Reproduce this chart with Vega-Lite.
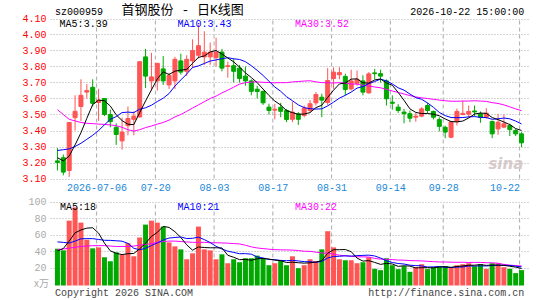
{
"$schema": "https://vega.github.io/schema/vega-lite/v6.json",
"width": 479, "height": 268,
"autosize": {"type": "none"},
"padding": {"left": 50, "top": 18, "right": 16, "bottom": 14},
"config": {"view": {"stroke": null}, "axis": {"labelFont": "Liberation Mono", "labelFontSize": 10}},
"datasets": {
"k": [
{"i":0,"o":3.21,"h":3.29,"l":3.15,"c":3.20,"m5":3.23,"m10":3.275,"m30":3.53,"v":42.8,"v5":40,"v10":51,"v30":41.6},
{"i":1,"o":3.23,"h":3.25,"l":3.12,"c":3.14,"m5":3.21,"m10":3.28,"m30":3.50,"v":40.8,"v5":43,"v10":50.5,"v30":42.5},
{"i":2,"o":3.15,"h":3.45,"l":3.11,"c":3.45,"m5":3.24,"m10":3.285,"m30":3.47,"v":76.8,"v5":52,"v10":49.6,"v30":43.5},
{"i":3,"o":3.48,"h":3.62,"l":3.40,"c":3.52,"m5":3.31,"m10":3.30,"m30":3.46,"v":92.8,"v5":62,"v10":52,"v30":44.5},
{"i":4,"o":3.55,"h":3.72,"l":3.46,"c":3.62,"m5":3.386,"m10":3.32,"m30":3.45,"v":74.4,"v5":65.5,"v10":54.8,"v30":45.5},
{"i":5,"o":3.64,"h":3.69,"l":3.60,"c":3.65,"m5":3.476,"m10":3.345,"m30":3.445,"v":53.6,"v5":67.7,"v10":55,"v30":46},
{"i":6,"o":3.67,"h":3.72,"l":3.55,"c":3.57,"m5":3.562,"m10":3.37,"m30":3.443,"v":43.2,"v5":68.2,"v10":55,"v30":46.5},
{"i":7,"o":3.575,"h":3.66,"l":3.46,"c":3.59,"m5":3.59,"m10":3.40,"m30":3.44,"v":44.4,"v5":61.7,"v10":54,"v30":46.5},
{"i":8,"o":3.60,"h":3.60,"l":3.49,"c":3.50,"m5":3.586,"m10":3.435,"m30":3.438,"v":32.4,"v5":49.6,"v10":53,"v30":46.5},
{"i":9,"o":3.50,"h":3.53,"l":3.42,"c":3.455,"m5":3.553,"m10":3.47,"m30":3.435,"v":27.6,"v5":40.2,"v10":52.9,"v30":46},
{"i":10,"o":3.42,"h":3.445,"l":3.31,"c":3.375,"m5":3.498,"m10":3.487,"m30":3.43,"v":38.4,"v5":37.2,"v10":52.4,"v30":45.5},
{"i":11,"o":3.335,"h":3.48,"l":3.28,"c":3.39,"m5":3.462,"m10":3.512,"m30":3.42,"v":35.6,"v5":35.7,"v10":51.9,"v30":45.5},
{"i":12,"o":3.43,"h":3.55,"l":3.37,"c":3.475,"m5":3.439,"m10":3.515,"m30":3.405,"v":49.6,"v5":36.7,"v10":49.2,"v30":45.5},
{"i":13,"o":3.47,"h":3.52,"l":3.37,"c":3.49,"m5":3.437,"m10":3.512,"m30":3.396,"v":33.6,"v5":37.0,"v10":43.3,"v30":46},
{"i":14,"o":3.485,"h":3.83,"l":3.48,"c":3.83,"m5":3.512,"m10":3.533,"m30":3.405,"v":56.4,"v5":42.7,"v10":41.5,"v30":47},
{"i":15,"o":3.86,"h":3.91,"l":3.665,"c":3.74,"m5":3.585,"m10":3.542,"m30":3.418,"v":72,"v5":49.4,"v10":43.3,"v30":48},
{"i":16,"o":3.71,"h":3.885,"l":3.65,"c":3.735,"m5":3.654,"m10":3.558,"m30":3.428,"v":76.8,"v5":57.7,"v10":46.7,"v30":49},
{"i":17,"o":3.71,"h":3.82,"l":3.65,"c":3.82,"m5":3.723,"m10":3.581,"m30":3.44,"v":74.4,"v5":62.6,"v10":49.7,"v30":50.5},
{"i":18,"o":3.785,"h":3.865,"l":3.685,"c":3.71,"m5":3.767,"m10":3.602,"m30":3.45,"v":69.6,"v5":69.8,"v10":53.4,"v30":51.5},
{"i":19,"o":3.685,"h":3.76,"l":3.66,"c":3.745,"m5":3.75,"m10":3.631,"m30":3.465,"v":50.4,"v5":68.6,"v10":55.7,"v30":52},
{"i":20,"o":3.71,"h":3.86,"l":3.66,"c":3.845,"m5":3.771,"m10":3.678,"m30":3.485,"v":45.6,"v5":63.4,"v10":56.4,"v30":52},
{"i":21,"o":3.835,"h":3.88,"l":3.75,"c":3.765,"m5":3.777,"m10":3.716,"m30":3.50,"v":42,"v5":56.4,"v10":57.0,"v30":51.5},
{"i":22,"o":3.77,"h":3.87,"l":3.74,"c":3.845,"m5":3.782,"m10":3.753,"m30":3.52,"v":30,"v5":47.5,"v10":55.1,"v30":51},
{"i":23,"o":3.835,"h":3.97,"l":3.79,"c":3.90,"m5":3.82,"m10":3.794,"m30":3.54,"v":37.2,"v5":41.0,"v10":55.4,"v30":50.5},
{"i":24,"o":3.87,"h":4.06,"l":3.85,"c":3.93,"m5":3.857,"m10":3.804,"m30":3.56,"v":69.6,"v5":44.9,"v10":56.8,"v30":50.5},
{"i":25,"o":3.86,"h":4.02,"l":3.81,"c":3.89,"m5":3.866,"m10":3.819,"m30":3.58,"v":42,"v5":44.2,"v10":53.8,"v30":50.5},
{"i":26,"o":3.86,"h":3.95,"l":3.81,"c":3.89,"m5":3.891,"m10":3.834,"m30":3.60,"v":40.8,"v5":43.9,"v10":50.2,"v30":50},
{"i":27,"o":3.855,"h":3.98,"l":3.80,"c":3.89,"m5":3.90,"m10":3.841,"m30":3.615,"v":30,"v5":43.9,"v10":45.7,"v30":50},
{"i":28,"o":3.89,"h":3.91,"l":3.77,"c":3.79,"m5":3.878,"m10":3.849,"m30":3.635,"v":36,"v5":43.7,"v10":42.4,"v30":49.8},
{"i":29,"o":3.80,"h":3.83,"l":3.73,"c":3.805,"m5":3.853,"m10":3.855,"m30":3.652,"v":25.2,"v5":34.8,"v10":39.8,"v30":49.5},
{"i":30,"o":3.805,"h":3.85,"l":3.70,"c":3.77,"m5":3.829,"m10":3.848,"m30":3.671,"v":30,"v5":32.4,"v10":38.3,"v30":49.0},
{"i":31,"o":3.79,"h":3.81,"l":3.70,"c":3.725,"m5":3.796,"m10":3.844,"m30":3.69,"v":26.4,"v5":29.5,"v10":36.7,"v30":48.6},
{"i":32,"o":3.74,"h":3.80,"l":3.68,"c":3.71,"m5":3.76,"m10":3.83,"m30":3.699,"v":31.2,"v5":29.8,"v10":36.8,"v30":47.0},
{"i":33,"o":3.71,"h":3.72,"l":3.62,"c":3.645,"m5":3.731,"m10":3.805,"m30":3.703,"v":31.2,"v5":28.8,"v10":36.2,"v30":45.0},
{"i":34,"o":3.658,"h":3.68,"l":3.60,"c":3.644,"m5":3.699,"m10":3.776,"m30":3.704,"v":34.4,"v5":30.6,"v10":32.7,"v30":43.7},
{"i":35,"o":3.644,"h":3.65,"l":3.56,"c":3.573,"m5":3.659,"m10":3.744,"m30":3.701,"v":31.2,"v5":30.9,"v10":31.6,"v30":42.9},
{"i":36,"o":3.546,"h":3.567,"l":3.50,"c":3.525,"m5":3.619,"m10":3.708,"m30":3.70,"v":22.8,"v5":30.2,"v10":29.8,"v30":42.2},
{"i":37,"o":3.527,"h":3.567,"l":3.47,"c":3.533,"m5":3.584,"m10":3.672,"m30":3.698,"v":25.2,"v5":29.0,"v10":29.4,"v30":41.6},
{"i":38,"o":3.545,"h":3.573,"l":3.483,"c":3.52,"m5":3.559,"m10":3.645,"m30":3.699,"v":28,"v5":28.3,"v10":28.6,"v30":41.4},
{"i":39,"o":3.525,"h":3.535,"l":3.452,"c":3.469,"m5":3.524,"m10":3.611,"m30":3.699,"v":22.8,"v5":26.0,"v10":28.3,"v30":41.3},
{"i":40,"o":3.47,"h":3.58,"l":3.452,"c":3.515,"m5":3.512,"m10":3.586,"m30":3.704,"v":33.6,"v5":26.5,"v10":28.7,"v30":41.1},
{"i":41,"o":3.504,"h":3.515,"l":3.435,"c":3.47,"m5":3.501,"m10":3.56,"m30":3.706,"v":19.2,"v5":25.8,"v10":28.0,"v30":40.6},
{"i":42,"o":3.494,"h":3.556,"l":3.483,"c":3.54,"m5":3.503,"m10":3.543,"m30":3.709,"v":22.8,"v5":25.3,"v10":27.1,"v30":39.7},
{"i":43,"o":3.525,"h":3.59,"l":3.515,"c":3.567,"m5":3.512,"m10":3.536,"m30":3.711,"v":30,"v5":25.7,"v10":27.0,"v30":39.6},
{"i":44,"o":3.573,"h":3.64,"l":3.556,"c":3.625,"m5":3.543,"m10":3.534,"m30":3.704,"v":27.6,"v5":26.6,"v10":26.3,"v30":38.6},
{"i":45,"o":3.608,"h":3.63,"l":3.483,"c":3.59,"m5":3.558,"m10":3.535,"m30":3.699,"v":42,"v5":28.3,"v10":27.4,"v30":37.6},
{"i":46,"o":3.575,"h":3.79,"l":3.56,"c":3.7125,"m5":3.607,"m10":3.554,"m30":3.699,"v":64,"v5":37.3,"v10":31.5,"v30":37.2},
{"i":47,"o":3.725,"h":3.795,"l":3.66,"c":3.765,"m5":3.652,"m10":3.577,"m30":3.697,"v":44.4,"v5":41.6,"v10":33.4,"v30":36.2},
{"i":48,"o":3.748,"h":3.795,"l":3.72,"c":3.762,"m5":3.691,"m10":3.602,"m30":3.699,"v":30,"v5":41.6,"v10":33.6,"v30":34.9},
{"i":49,"o":3.738,"h":3.755,"l":3.62,"c":3.656,"m5":3.697,"m10":3.62,"m30":3.696,"v":28.8,"v5":41.8,"v10":34.2,"v30":34.1},
{"i":50,"o":3.66,"h":3.78,"l":3.65,"c":3.71,"m5":3.721,"m10":3.64,"m30":3.691,"v":28.8,"v5":39.2,"v10":33.8,"v30":33.6},
{"i":51,"o":3.695,"h":3.775,"l":3.68,"c":3.72,"m5":3.723,"m10":3.665,"m30":3.69,"v":25.2,"v5":31.4,"v10":34.4,"v30":33.0},
{"i":52,"o":3.71,"h":3.745,"l":3.62,"c":3.64,"m5":3.698,"m10":3.675,"m30":3.683,"v":26.4,"v5":27.8,"v10":34.7,"v30":32.9},
{"i":53,"o":3.635,"h":3.765,"l":3.63,"c":3.754,"m5":3.696,"m10":3.693,"m30":3.678,"v":32.4,"v5":28.3,"v10":35.0,"v30":32.7},
{"i":54,"o":3.76,"h":3.785,"l":3.72,"c":3.755,"m5":3.716,"m10":3.706,"m30":3.672,"v":18.4,"v5":26.2,"v10":34.0,"v30":31.0},
{"i":55,"o":3.755,"h":3.78,"l":3.70,"c":3.74,"m5":3.722,"m10":3.721,"m30":3.667,"v":16.8,"v5":23.8,"v10":31.5,"v30":30.2},
{"i":56,"o":3.71,"h":3.72,"l":3.556,"c":3.598,"m5":3.697,"m10":3.71,"m30":3.657,"v":31.2,"v5":25.0,"v10":28.2,"v30":29.9},
{"i":57,"o":3.577,"h":3.62,"l":3.53,"c":3.57,"m5":3.683,"m10":3.691,"m30":3.647,"v":22.8,"v5":24.3,"v10":26.1,"v30":29.6},
{"i":58,"o":3.546,"h":3.565,"l":3.51,"c":3.525,"m5":3.638,"m10":3.667,"m30":3.638,"v":18,"v5":21.4,"v10":24.9,"v30":29.0},
{"i":59,"o":3.515,"h":3.535,"l":3.445,"c":3.505,"m5":3.588,"m10":3.652,"m30":3.628,"v":21.6,"v5":22.1,"v10":24.2,"v30":28.9},
{"i":60,"o":3.505,"h":3.525,"l":3.452,"c":3.477,"m5":3.535,"m10":3.628,"m30":3.618,"v":14.8,"v5":21.7,"v10":22.8,"v30":28.4},
{"i":61,"o":3.483,"h":3.51,"l":3.455,"c":3.49,"m5":3.513,"m10":3.605,"m30":3.61,"v":20.4,"v5":19.5,"v10":22.3,"v30":28.2},
{"i":62,"o":3.49,"h":3.546,"l":3.483,"c":3.535,"m5":3.506,"m10":3.595,"m30":3.604,"v":24,"v5":19.8,"v10":22.0,"v30":28.0},
{"i":63,"o":3.556,"h":3.573,"l":3.505,"c":3.525,"m5":3.506,"m10":3.572,"m30":3.60,"v":18,"v5":19.8,"v10":20.6,"v30":27.5},
{"i":64,"o":3.519,"h":3.525,"l":3.469,"c":3.483,"m5":3.502,"m10":3.545,"m30":3.595,"v":20.4,"v5":19.5,"v10":20.8,"v30":27.1},
{"i":65,"o":3.468,"h":3.483,"l":3.394,"c":3.426,"m5":3.492,"m10":3.513,"m30":3.59,"v":20.8,"v5":20.7,"v10":21.2,"v30":26.7},
{"i":66,"o":3.42,"h":3.43,"l":3.352,"c":3.39,"m5":3.472,"m10":3.493,"m30":3.586,"v":21.6,"v5":21.0,"v10":20.2,"v30":26.7},
{"i":67,"o":3.358,"h":3.456,"l":3.352,"c":3.454,"m5":3.456,"m10":3.481,"m30":3.583,"v":20.4,"v5":20.2,"v10":20.0,"v30":26.5},
{"i":68,"o":3.455,"h":3.537,"l":3.431,"c":3.519,"m5":3.454,"m10":3.48,"m30":3.583,"v":22.8,"v5":21.2,"v10":20.5,"v30":26.3},
{"i":69,"o":3.50,"h":3.585,"l":3.495,"c":3.507,"m5":3.459,"m10":3.481,"m30":3.584,"v":24,"v5":21.9,"v10":20.7,"v30":26.4},
{"i":70,"o":3.502,"h":3.556,"l":3.483,"c":3.519,"m5":3.478,"m10":3.485,"m30":3.584,"v":25.2,"v5":22.8,"v10":21.8,"v30":26.1},
{"i":71,"o":3.522,"h":3.556,"l":3.49,"c":3.516,"m5":3.503,"m10":3.487,"m30":3.586,"v":21.6,"v5":22.8,"v10":21.9,"v30":26.2},
{"i":72,"o":3.504,"h":3.519,"l":3.448,"c":3.483,"m5":3.509,"m10":3.482,"m30":3.584,"v":24,"v5":23.5,"v10":21.9,"v30":26.2},
{"i":73,"o":3.483,"h":3.54,"l":3.473,"c":3.508,"m5":3.507,"m10":3.481,"m30":3.582,"v":18.4,"v5":22.6,"v10":21.9,"v30":25.8},
{"i":74,"o":3.456,"h":3.4625,"l":3.352,"c":3.379,"m5":3.481,"m10":3.47,"m30":3.574,"v":25.2,"v5":22.9,"v10":22.4,"v30":25.7},
{"i":75,"o":3.41,"h":3.504,"l":3.373,"c":3.452,"m5":3.468,"m10":3.473,"m30":3.569,"v":25.2,"v5":22.9,"v10":22.8,"v30":25.2},
{"i":76,"o":3.421,"h":3.50,"l":3.415,"c":3.442,"m5":3.453,"m10":3.478,"m30":3.56,"v":20.4,"v5":22.6,"v10":22.7,"v30":23.7},
{"i":77,"o":3.431,"h":3.442,"l":3.365,"c":3.406,"m5":3.437,"m10":3.473,"m30":3.548,"v":18.4,"v5":21.5,"v10":22.5,"v30":22.9},
{"i":78,"o":3.40,"h":3.41,"l":3.365,"c":3.379,"m5":3.412,"m10":3.459,"m30":3.535,"v":13.2,"v5":20.5,"v10":21.6,"v30":22.3},
{"i":79,"o":3.379,"h":3.39,"l":3.296,"c":3.323,"m5":3.40,"m10":3.441,"m30":3.524,"v":16.8,"v5":18.8,"v10":20.8,"v30":21.9}
],
"g": [{"i":6.6667},{"i":16.6667},{"i":26.6667},{"i":36.6667},{"i":46.6667},{"i":56.6667},{"i":65.6667},{"i":78.6667}]
},
"data": {"name": "k"},
"encoding": {
"x": {"field": "i", "type": "quantitative",
 "scale": {"domain": [-0.4167, 79.4167], "nice": false, "zero": false},
 "axis": {"orient": "bottom", "offset": -108, "values": [6.6667,16.6667,26.6667,36.6667,46.6667,56.6667,65.6667,78.6667],
  "labelExpr": "datum.value < 7 ? '2026-07-06' : datum.value < 17 ? '07-20' : datum.value < 27 ? '08-03' : datum.value < 37 ? '08-17' : datum.value < 47 ? '08-31' : datum.value < 57 ? '09-14' : datum.value < 66 ? '09-28' : '10-22'",
  "labelAlign": {"condition": {"test": "datum.value > 78", "value": "right"}, "value": "center"},
  "ticks": false, "domain": false, "grid": false, "labelPadding": 4, "labelColor": "#1a88d8",
  "labelFlush": false, "labelOverlap": false, "labelBound": false, "title": null}}
},
"layer": [
 {"data": {"values": [{}]}, "mark": {"type": "rect", "filled": false, "stroke": "#999999", "strokeWidth": 1},
  "encoding": {"x": {"datum": -0.3333}, "x2": {"datum": 79.3333},
   "y": {"datum": 3.1, "scale": {"domain": [3.1, 4.1], "range": [160.5, 0.5], "nice": false, "zero": false},
    "axis": {"orient": "left", "values": [3.1,3.2,3.3,3.4,3.5,3.6,3.7,3.8,3.9,4.0,4.1], "format": ".2f", "labelColor": "#ff0000",
     "labelPadding": 4, "ticks": false, "domain": false, "grid": true, "gridColor": "#aaaaaa", "gridDash": [1, 2], "title": null, "labelBound": false, "labelOverlap": false, "labelFlush": false}},
   "y2": {"datum": 4.1}}},
 {"data": {"name": "g"}, "mark": {"type": "rule", "stroke": "#aaaaaa", "strokeWidth": 1, "strokeDash": [4, 3]},
  "encoding": {"y": {"datum": 3.1, "scale": {"domain": [3.1, 4.1], "range": [160.5, 0.5], "nice": false, "zero": false}, "axis": null}, "y2": {"datum": 4.1}}},
 {"mark": {"type": "rule", "strokeWidth": 1},
  "encoding": {
   "y": {"field": "l", "type": "quantitative", "scale": {"domain": [3.1, 4.1], "range": [160.5, 0.5], "nice": false, "zero": false}, "axis": null},
   "y2": {"field": "h"},
   "color": {"condition": {"test": "datum.c >= datum.o", "value": "#ff5555"}, "value": "#00a800"}}},
 {"mark": {"type": "bar", "width": 4, "strokeWidth": 1},
  "encoding": {
   "y": {"field": "o", "type": "quantitative", "scale": {"domain": [3.1, 4.1], "range": [160.5, 0.5], "nice": false, "zero": false}, "axis": null},
   "y2": {"field": "c"},
   "fill": {"condition": {"test": "datum.c >= datum.o", "value": "#ff5555"}, "value": "#00a800"},
   "stroke": {"condition": {"test": "datum.c >= datum.o", "value": "#ff5555"}, "value": "#00a800"}}},
 {"mark": {"type": "line", "color": "#ff00ff", "strokeWidth": 1}, "encoding": {"y": {"field": "m30", "type": "quantitative", "scale": {"domain": [3.1, 4.1], "range": [160.5, 0.5], "nice": false, "zero": false}, "axis": null}}},
 {"mark": {"type": "line", "color": "#0000ff", "strokeWidth": 1}, "encoding": {"y": {"field": "m10", "type": "quantitative", "scale": {"domain": [3.1, 4.1], "range": [160.5, 0.5], "nice": false, "zero": false}, "axis": null}}},
 {"mark": {"type": "line", "color": "#000000", "strokeWidth": 1}, "encoding": {"y": {"field": "m5", "type": "quantitative", "scale": {"domain": [3.1, 4.1], "range": [160.5, 0.5], "nice": false, "zero": false}, "axis": null}}},
 {"data": {"values": [{"i": 0.37, "p": 4.047}]}, "mark": {"type": "text", "text": "MA5:3.39", "align": "left", "baseline": "alphabetic", "font": "Liberation Mono", "fontSize": 10, "color": "#000000"},
  "encoding": {"y": {"field": "p", "type": "quantitative", "scale": {"domain": [3.1, 4.1], "range": [160.5, 0.5], "nice": false, "zero": false}, "axis": null}}},
 {"data": {"values": [{"i": 20.42, "p": 4.047}]}, "mark": {"type": "text", "text": "MA10:3.43", "align": "left", "baseline": "alphabetic", "font": "Liberation Mono", "fontSize": 10, "color": "#0000ff"},
  "encoding": {"y": {"field": "p", "type": "quantitative", "scale": {"domain": [3.1, 4.1], "range": [160.5, 0.5], "nice": false, "zero": false}, "axis": null}}},
 {"data": {"values": [{"i": 40.42, "p": 4.047}]}, "mark": {"type": "text", "text": "MA30:3.52", "align": "left", "baseline": "alphabetic", "font": "Liberation Mono", "fontSize": 10, "color": "#ff00ff"},
  "encoding": {"y": {"field": "p", "type": "quantitative", "scale": {"domain": [3.1, 4.1], "range": [160.5, 0.5], "nice": false, "zero": false}, "axis": null}}},
 {"data": {"values": [{"i": -0.417, "p": 4.1219}]}, "mark": {"type": "text", "text": "sz000959", "align": "left", "baseline": "alphabetic", "font": "Liberation Mono", "fontSize": 10, "color": "#000000"},
  "encoding": {"y": {"field": "p", "type": "quantitative", "scale": {"domain": [3.1, 4.1], "range": [160.5, 0.5], "nice": false, "zero": false}, "axis": null}}},
 {"data": {"values": [{"i": 10.92, "p": 4.131}]}, "mark": {"type": "text", "text": "首钢股份 - 日K线图", "align": "left", "baseline": "alphabetic", "font": "Liberation Mono, Noto Sans CJK SC", "fontSize": 13, "color": "#000000"},
  "encoding": {"y": {"field": "p", "type": "quantitative", "scale": {"domain": [3.1, 4.1], "range": [160.5, 0.5], "nice": false, "zero": false}, "axis": null}}},
 {"data": {"values": [{"i": 79.47, "p": 4.1219}]}, "mark": {"type": "text", "text": "2026-10-22 15:00:00", "align": "right", "baseline": "alphabetic", "font": "Liberation Mono", "fontSize": 10, "color": "#000000"},
  "encoding": {"y": {"field": "p", "type": "quantitative", "scale": {"domain": [3.1, 4.1], "range": [160.5, 0.5], "nice": false, "zero": false}, "axis": null}}},
 {"data": {"values": [{"i": 79.3, "p": 3.16}]}, "mark": {"type": "text", "text": "sina", "align": "right", "baseline": "alphabetic", "font": "DejaVu Sans", "fontSize": 15, "fontStyle": "italic", "fontWeight": "bold", "color": "#d6caca"},
  "encoding": {"y": {"field": "p", "type": "quantitative", "scale": {"domain": [3.1, 4.1], "range": [160.5, 0.5], "nice": false, "zero": false}, "axis": null}}},
 {"data": {"values": [{}]}, "mark": {"type": "rect", "filled": false, "stroke": "#999999", "strokeWidth": 1},
  "encoding": {"x": {"datum": -0.3333}, "x2": {"datum": 79.3333},
   "y": {"datum": -1.8, "scale": {"domain": [-1.8, 100], "range": [267.5, 183.5], "nice": false, "zero": false},
    "axis": {"orient": "left", "values": [20, 40, 60, 80, 100], "format": "d", "labelColor": "#aaaaaa", "labelPadding": 4, "ticks": false, "domain": false,
     "grid": true, "gridColor": "#aaaaaa", "gridDash": [1, 2], "title": null, "labelBound": false, "labelOverlap": false, "labelFlush": false}},
   "y2": {"datum": 100}}},
 {"data": {"name": "g"}, "mark": {"type": "rule", "stroke": "#aaaaaa", "strokeWidth": 1, "strokeDash": [4, 3]},
  "encoding": {"y": {"datum": -1.8, "scale": {"domain": [-1.8, 100], "range": [267.5, 183.5], "nice": false, "zero": false}, "axis": null}, "y2": {"datum": 100}}},
 {"mark": {"type": "bar", "width": 5},
  "encoding": {
   "y": {"field": "v", "type": "quantitative", "scale": {"domain": [-1.8, 100], "range": [267.5, 183.5], "nice": false, "zero": false}, "axis": null},
   "y2": {"datum": -1.8},
   "color": {"condition": {"test": "datum.c >= datum.o", "value": "#ff5555"}, "value": "#00a800"}}},
 {"mark": {"type": "line", "color": "#ff00ff", "strokeWidth": 1}, "encoding": {"y": {"field": "v30", "type": "quantitative", "scale": {"domain": [-1.8, 100], "range": [267.5, 183.5], "nice": false, "zero": false}, "axis": null}}},
 {"mark": {"type": "line", "color": "#0000ff", "strokeWidth": 1}, "encoding": {"y": {"field": "v10", "type": "quantitative", "scale": {"domain": [-1.8, 100], "range": [267.5, 183.5], "nice": false, "zero": false}, "axis": null}}},
 {"mark": {"type": "line", "color": "#000000", "strokeWidth": 1}, "encoding": {"y": {"field": "v5", "type": "quantitative", "scale": {"domain": [-1.8, 100], "range": [267.5, 183.5], "nice": false, "zero": false}, "axis": null}}},
 {"data": {"values": [{"i": 0.42, "q": 89.7}]}, "mark": {"type": "text", "text": "MA5:18", "align": "left", "baseline": "alphabetic", "font": "Liberation Mono", "fontSize": 10, "color": "#000000"},
  "encoding": {"y": {"field": "q", "type": "quantitative", "scale": {"domain": [-1.8, 100], "range": [267.5, 183.5], "nice": false, "zero": false}, "axis": null}}},
 {"data": {"values": [{"i": 20.42, "q": 89.7}]}, "mark": {"type": "text", "text": "MA10:21", "align": "left", "baseline": "alphabetic", "font": "Liberation Mono", "fontSize": 10, "color": "#0000ff"},
  "encoding": {"y": {"field": "q", "type": "quantitative", "scale": {"domain": [-1.8, 100], "range": [267.5, 183.5], "nice": false, "zero": false}, "axis": null}}},
 {"data": {"values": [{"i": 40.42, "q": 89.7}]}, "mark": {"type": "text", "text": "MA30:22", "align": "left", "baseline": "alphabetic", "font": "Liberation Mono", "fontSize": 10, "color": "#ff00ff"},
  "encoding": {"y": {"field": "q", "type": "quantitative", "scale": {"domain": [-1.8, 100], "range": [267.5, 183.5], "nice": false, "zero": false}, "axis": null}}},
 {"data": {"values": [{"i": -1.45, "q": 0}]}, "mark": {"type": "text", "text": "x万", "align": "right", "baseline": "middle", "font": "Noto Sans CJK SC", "fontSize": 10, "color": "#aaaaaa"},
  "encoding": {"y": {"field": "q", "type": "quantitative", "scale": {"domain": [-1.8, 100], "range": [267.5, 183.5], "nice": false, "zero": false}, "axis": null}}},
 {"data": {"values": [{"i": -0.417, "q": -14.5}]}, "mark": {"type": "text", "text": "Copyright 2026 SINA.COM", "align": "left", "baseline": "alphabetic", "font": "Liberation Mono", "fontSize": 10, "color": "#444444"},
  "encoding": {"y": {"field": "q", "type": "quantitative", "scale": {"domain": [-1.8, 100], "range": [267.5, 183.5], "nice": false, "zero": false}, "axis": null}}},
 {"data": {"values": [{"i": 79.47, "q": -14.5}]}, "mark": {"type": "text", "text": "http://finance.sina.com.cn", "align": "right", "baseline": "alphabetic", "font": "Liberation Mono", "fontSize": 10, "color": "#444444"},
  "encoding": {"y": {"field": "q", "type": "quantitative", "scale": {"domain": [-1.8, 100], "range": [267.5, 183.5], "nice": false, "zero": false}, "axis": null}}}
],
"resolve": {"scale": {"y": "independent"}}
}
